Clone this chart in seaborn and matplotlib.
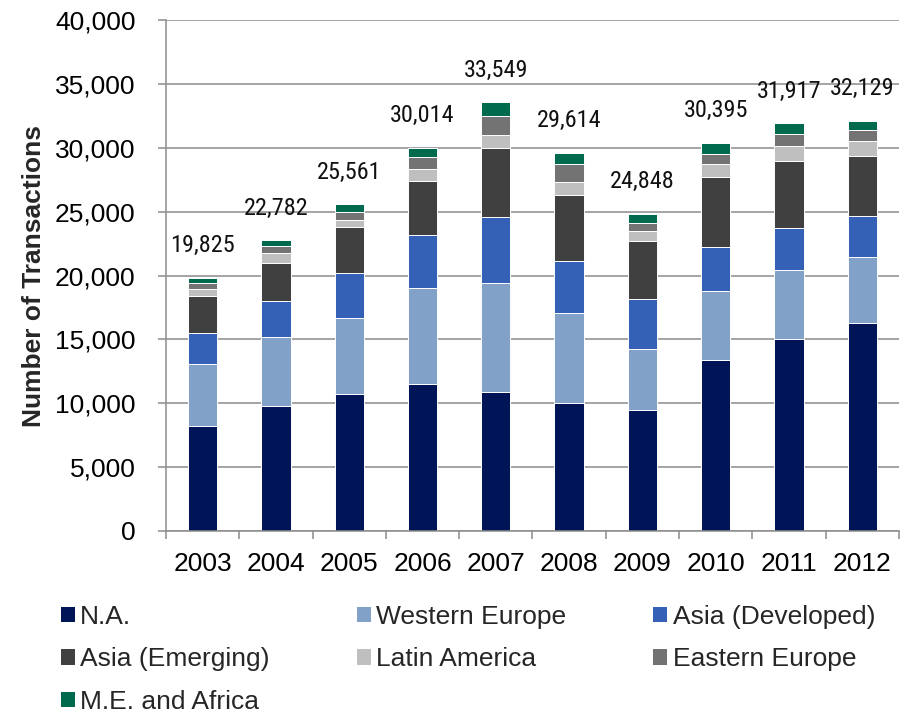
import numpy as np
import matplotlib
matplotlib.use("Agg")
import matplotlib.pyplot as plt
import seaborn as sns
from matplotlib.patches import Patch
from matplotlib.ticker import FuncFormatter, MultipleLocator

# Transactions per region, 2003-2012
years = ["2003", "2004", "2005", "2006", "2007", "2008", "2009", "2010", "2011", "2012"]
north_america = [8200, 9800, 10700, 11500, 10900, 10000, 9500, 13400, 15000, 16300]
western_europe = [4900, 5400, 6000, 7500, 8550, 7100, 4750, 5400, 5450, 5150]
asia_developed = [2400, 2800, 3500, 4150, 5100, 4050, 3900, 3400, 3300, 3200]
asia_emerging = [2900, 3000, 3600, 4250, 5450, 5150, 4550, 5500, 5200, 4700]
latin_america = [550, 800, 550, 950, 1000, 1000, 800, 1050, 1200, 1200]
eastern_europe = [450, 500, 650, 900, 1500, 1400, 600, 800, 900, 850]
me_africa = [425, 482, 561, 764, 1049, 914, 748, 845, 867, 729]

series_names = ["N.A.", "Western Europe", "Asia (Developed)", "Asia (Emerging)",
                "Latin America", "Eastern Europe", "M.E. and Africa"]
series_values = [north_america, western_europe, asia_developed, asia_emerging,
                 latin_america, eastern_europe, me_africa]
colors = ["#001558", "#82a1c8", "#3461b6", "#404040", "#bfbfbf", "#737373", "#006a4e"]

sns.set_theme(style="white")
plt.rcParams["font.family"] = ["Liberation Sans", "DejaVu Sans"]
narrow = ["Roboto Condensed", "PT Sans Narrow", "Archivo Narrow", "Liberation Sans"]

grid_gray = "#8c8c8c"
fig = plt.figure(figsize=(9.18, 7.16), dpi=100)
ax = fig.add_axes([0.1808, 0.2584, 0.7985, 0.7136])

bottom = np.zeros(len(years))
for name, vals, color in zip(series_names, series_values, colors):
    vals = np.array(vals, dtype=float)
    sns.barplot(x=years, y=vals, bottom=bottom.copy(), color=color, width=0.4,
                saturation=1, edgecolor="white", linewidth=0.7, ax=ax, zorder=2)
    bottom += vals

# stack totals above each column
for i, total in enumerate(bottom):
    ax.text(i, total + 2500, f"{int(round(total)):,}", ha="center", va="center",
            fontsize=17.5, family=narrow, color="#111111")

ax.set_ylim(0, 40000)
ax.set_xlim(-0.5, len(years) - 0.5)
ax.yaxis.set_major_locator(MultipleLocator(5000))
ax.yaxis.set_major_formatter(FuncFormatter(lambda v, p: f"{int(v):,}"))
ax.set_axisbelow(True)
ax.grid(axis="y", color=grid_gray, linewidth=1.1)
ax.grid(axis="x", visible=False)

for side in ["top", "right"]:
    ax.spines[side].set_visible(False)
for side in ["left", "bottom"]:
    ax.spines[side].set_color(grid_gray)
    ax.spines[side].set_linewidth(1.1)

ax.tick_params(axis="y", which="major", left=True, length=6, width=1.1, color=grid_gray,
               labelsize=19, labelcolor="black", pad=16)
ax.tick_params(axis="x", which="major", bottom=False, length=0, labelsize=19,
               labelcolor="black", pad=15)
ax.set_xticks(np.arange(-0.5, len(years), 1.0), minor=True)
ax.tick_params(axis="x", which="minor", bottom=True, length=6, width=1.1, color=grid_gray)

ax.set_xlabel("")
ax.set_ylabel("Number of Transactions", fontsize=19, fontweight="bold")
ax.yaxis.set_label_coords(-0.163, 0.5)

# legend laid out row by row in three columns
handles = [Patch(facecolor=c, edgecolor="none") for c in colors]
order = [0, 3, 6, 1, 4, 2, 5]
fig.legend([handles[k] for k in order], [series_names[k] for k in order],
           ncol=3, loc="upper left", bbox_to_anchor=(0.0665, 0.155),
           frameon=False, prop={"family": "Liberation Sans", "size": 19},
           handlelength=0.53, handleheight=0.53, handletextpad=0.2,
           columnspacing=3.3, labelspacing=0.7, borderpad=0, borderaxespad=0)

fig.savefig("out.png", dpi=100)
